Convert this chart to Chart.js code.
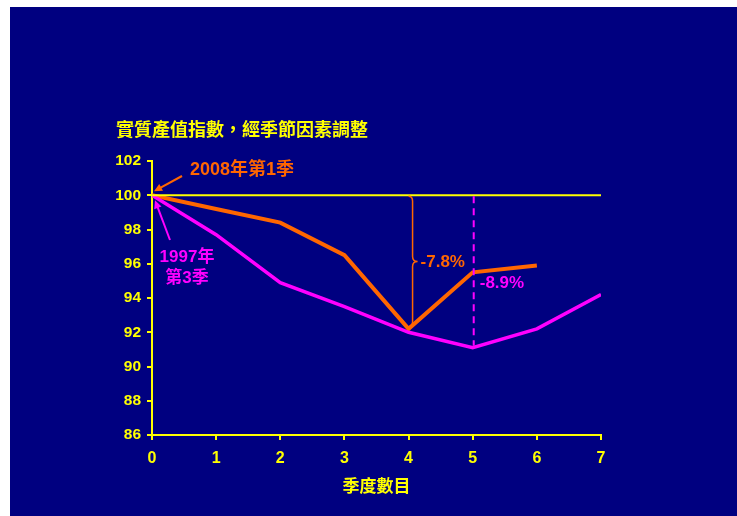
<!DOCTYPE html>
<html>
<head>
<meta charset="utf-8">
<script src="https://cdn.jsdelivr.net/npm/chart.js@4"></script>
<style>
  html, body { margin: 0; padding: 0; background: #ffffff; }
  #wrap { width: 737px; height: 516px; position: relative; }
</style>
</head>
<body>
<div id="wrap"><canvas id="chart" width="737" height="516"></canvas></div>
<script>
var NAVY = '#000080';
var YELLOW = '#ffff00';
var ORANGE = '#ff6600';
var MAGENTA = '#ff00ff';
var FONT = '"Liberation Sans", "Noto Sans CJK TC", Arial, sans-serif';

// quarters since the peak
var quarters = [0, 1, 2, 3, 4, 5, 6, 7];
var yTicks = [86, 88, 90, 92, 94, 96, 98, 100, 102];
// real output index, seasonally adjusted (peak = 100)
var index2008 = [100, 99.2, 98.4, 96.5, 92.2, 95.5, 95.9];
var index1997 = [100, 97.7, 94.9, 93.5, 92.0, 91.1, 92.2, 94.2];
var baseline = [100, 100];
var baselineX = [0, 7];

var titleText = '實質產值指數，經季節因素調整';
var xTitle = '季度數目';
var drop2008 = '-7.8%';
var drop1997 = '-8.9%';

function toPoints(xs, ys) {
    return ys.map(function(v, i){ return {x: xs[i], y: v}; });
}

function arrow(ctx, x1, y1, x2, y2, color) {
    var ang = Math.atan2(y2 - y1, x2 - x1);
    var len = 9;
    ctx.strokeStyle = color;
    ctx.fillStyle = color;
    ctx.lineWidth = 2;
    ctx.beginPath();
    ctx.moveTo(x1, y1);
    ctx.lineTo(x2 - Math.cos(ang) * 5, y2 - Math.sin(ang) * 5);
    ctx.stroke();
    ctx.beginPath();
    ctx.moveTo(x2, y2);
    ctx.lineTo(x2 - len * Math.cos(ang - 0.45), y2 - len * Math.sin(ang - 0.45));
    ctx.lineTo(x2 - len * Math.cos(ang + 0.45), y2 - len * Math.sin(ang + 0.45));
    ctx.closePath();
    ctx.fill();
}

var backgroundPlugin = {
    id: 'navyBackground',
    beforeDraw: function(chart) {
        var ctx = chart.ctx;
        ctx.save();
        ctx.fillStyle = '#ffffff';
        ctx.fillRect(0, 0, chart.width, chart.height);
        ctx.fillStyle = NAVY;
        ctx.fillRect(10, 7, chart.width - 10, chart.height - 7);
        ctx.restore();
    }
};

var notesPlugin = {
    id: 'notes',
    afterDatasetsDraw: function(chart) {
        var ctx = chart.ctx;
        var xs = chart.scales.x, ys = chart.scales.y;
        var area = chart.chartArea;
        ctx.save();

        // title and axis title
        ctx.fillStyle = YELLOW;
        ctx.font = 'bold 18px ' + FONT;
        ctx.textBaseline = 'middle';
        ctx.textAlign = 'left';
        ctx.fillText(titleText, 116, 131);
        ctx.textAlign = 'center';
        ctx.font = 'bold 17px ' + FONT;
        ctx.fillText(xTitle, (area.left + area.right) / 2, 487);

        // 2008 label + arrow
        var x0 = xs.getPixelForValue(0), y100 = ys.getPixelForValue(100);
        ctx.textAlign = 'left';
        ctx.fillStyle = ORANGE;
        ctx.font = 'bold 18px ' + FONT;
        ctx.fillText('2008年第1季', x0 + 38, 170);
        arrow(ctx, x0 + 30, 176, x0 + 2, y100 - 4, ORANGE);

        // 1997 label + arrow
        ctx.fillStyle = MAGENTA;
        ctx.font = 'bold 17px ' + FONT;
        ctx.textAlign = 'center';
        ctx.fillText('1997年', x0 + 35, 257);
        ctx.fillText('第3季', x0 + 35, 278);
        arrow(ctx, x0 + 18, 240, x0 + 3, y100 + 5, MAGENTA);

        // orange brace from 100 down to 2008 trough
        var bx = xs.getPixelForValue(4) + 4;
        var top = y100 + 1, bot = ys.getPixelForValue(index2008[4]) - 2;
        var mid = (top + bot) / 2;
        ctx.strokeStyle = ORANGE;
        ctx.lineWidth = 1.5;
        ctx.beginPath();
        ctx.moveTo(bx - 4, top);
        ctx.quadraticCurveTo(bx, top, bx, top + 5);
        ctx.lineTo(bx, mid - 5);
        ctx.quadraticCurveTo(bx, mid, bx + 5, mid);
        ctx.quadraticCurveTo(bx, mid, bx, mid + 5);
        ctx.lineTo(bx, bot - 5);
        ctx.quadraticCurveTo(bx, bot, bx - 4, bot);
        ctx.stroke();
        ctx.fillStyle = ORANGE;
        ctx.font = 'bold 17px ' + FONT;
        ctx.textAlign = 'left';
        ctx.fillText(drop2008, bx + 8, mid + 1);

        // magenta dashed drop line at quarter 5
        var dx = xs.getPixelForValue(5) + 1;
        ctx.strokeStyle = MAGENTA;
        ctx.lineWidth = 2;
        ctx.setLineDash([7, 5]);
        ctx.beginPath();
        ctx.moveTo(dx, y100 + 1);
        ctx.lineTo(dx, ys.getPixelForValue(index1997[5]) - 2);
        ctx.stroke();
        ctx.setLineDash([]);
        ctx.fillStyle = MAGENTA;
        ctx.fillText(drop1997, dx + 6, 283);

        ctx.restore();
    }
};

var axisStyle = {
    border: { color: YELLOW, width: 2 },
    grid: { drawOnChartArea: false, drawTicks: true, tickLength: 5, color: YELLOW, lineWidth: 2 }
};

var config = {
    type: 'line',
    data: {
        datasets: [{
            label: 'base',
            data: toPoints(baselineX, baseline),
            borderColor: YELLOW,
            borderWidth: 2,
            pointRadius: 0,
            fill: false
        }, {
            label: '1997年第3季',
            data: toPoints(quarters, index1997),
            borderColor: MAGENTA,
            borderWidth: 3.5,
            pointRadius: 0,
            tension: 0,
            fill: false
        }, {
            label: '2008年第1季',
            data: toPoints(quarters, index2008),
            borderColor: ORANGE,
            borderWidth: 4,
            pointRadius: 0,
            tension: 0,
            fill: false
        }]
    },
    options: {
        responsive: false,
        animation: false,
        events: [],
        layout: { padding: { left: 0, right: 136, top: 161, bottom: 0 } },
        plugins: {
            legend: { display: false },
            title: { display: false },
            tooltip: { enabled: false }
        },
        scales: {
            x: {
                type: 'linear',
                min: 0,
                max: 7,
                border: axisStyle.border,
                grid: axisStyle.grid,
                afterFit: function(scale){ scale.height = 81; },
                afterBuildTicks: function(scale){
                    scale.ticks = quarters.map(function(v){ return {value: v}; });
                },
                ticks: {
                    color: YELLOW,
                    padding: 9,
                    maxRotation: 0,
                    font: { family: FONT, size: 16, weight: 'bold' }
                }
            },
            y: {
                min: 86,
                max: 102,
                border: axisStyle.border,
                grid: axisStyle.grid,
                afterFit: function(scale){ scale.width = 152; },
                afterBuildTicks: function(scale){
                    scale.ticks = yTicks.map(function(v){ return {value: v}; });
                },
                ticks: {
                    color: YELLOW,
                    padding: 6,
                    font: { family: FONT, size: 15.5, weight: 'bold' }
                }
            }
        }
    },
    plugins: [backgroundPlugin, notesPlugin]
};

window.onload = function(){
    var ctx = document.getElementById('chart').getContext('2d');
    window.outputChart = new Chart(ctx, config);
};
</script>
</body>
</html>
